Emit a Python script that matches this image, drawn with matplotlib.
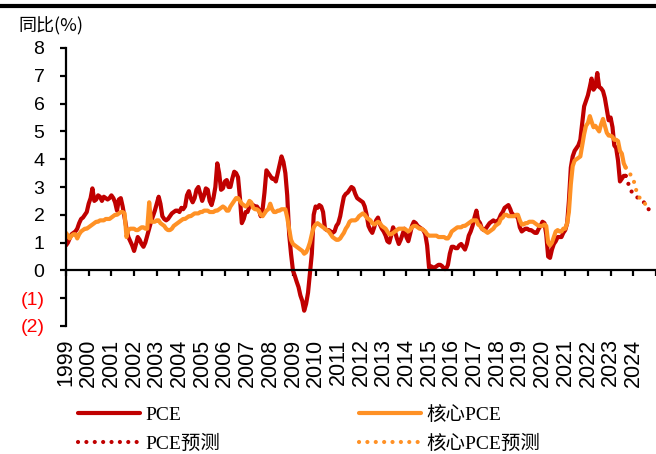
import matplotlib
matplotlib.use("Agg")
import matplotlib.pyplot as plt
import matplotlib.dates as mdates
import pandas as pd

# PCE yoy, monthly from 1999-01 to 2023-09 (%)
pce = [
    0.9, 1.0, 1.15, 1.3, 1.35, 1.4, 1.5, 1.7, 1.85, 1.9, 2.0, 2.1,          # 1999
    2.4, 2.6, 2.95, 2.5, 2.55, 2.7, 2.65, 2.5, 2.65, 2.6, 2.55, 2.6,        # 2000
    2.7, 2.6, 2.45, 2.15, 2.55, 2.6, 2.3, 1.9, 1.5, 1.2, 1.05, 0.9,         # 2001
    0.7, 0.95, 1.2, 1.1, 0.95, 0.85, 1.0, 1.25, 1.5, 1.75, 1.95, 2.15,      # 2002
    2.4, 2.65, 2.4, 1.95, 1.85, 1.8, 1.85, 1.95, 2.05, 2.1, 2.15, 2.15,     # 2003
    2.1, 2.25, 2.2, 2.3, 2.7, 2.85, 2.6, 2.45, 2.6, 2.9, 3.0, 2.75,         # 2004
    2.5, 2.7, 2.95, 2.9, 2.5, 2.35, 2.6, 3.0, 3.85, 3.5, 2.9, 2.95,         # 2005
    3.2, 3.25, 3.0, 3.0, 3.3, 3.55, 3.5, 3.35, 2.6, 1.7, 1.85, 2.1,         # 2006
    2.1, 2.3, 2.4, 2.35, 2.3, 2.3, 2.2, 1.95, 2.2, 2.8, 3.6, 3.5,           # 2007
    3.4, 3.3, 3.3, 3.2, 3.5, 3.8, 4.1, 3.9, 3.5, 2.7, 1.3, 0.6,             # 2008
    0.0, -0.2, -0.4, -0.6, -0.9, -1.1, -1.45, -1.2, -0.8, -0.1, 0.6, 2.0,   # 2009
    2.3, 2.25, 2.35, 2.3, 2.1, 1.5, 1.45, 1.45, 1.4, 1.35, 1.4, 1.6,        # 2010
    1.7, 1.95, 2.3, 2.65, 2.75, 2.8, 2.9, 3.0, 2.95, 2.75, 2.6, 2.55,       # 2011
    2.5, 2.45, 2.3, 2.0, 1.6, 1.45, 1.35, 1.55, 1.8, 1.9, 1.65, 1.5,        # 2012
    1.4, 1.25, 1.05, 1.0, 1.25, 1.55, 1.4, 1.15, 0.95, 1.1, 1.3, 1.5,       # 2013
    1.2, 1.05, 1.3, 1.6, 1.75, 1.7, 1.6, 1.55, 1.5, 1.45, 1.3, 0.9,         # 2014
    0.1, 0.15, 0.1, 0.1, 0.15, 0.2, 0.2, 0.15, 0.05, 0.05, 0.2, 0.6,        # 2015
    0.85, 0.85, 0.8, 0.8, 0.9, 0.95, 0.85, 0.75, 0.95, 1.25, 1.4, 1.6,      # 2016
    1.9, 2.15, 1.8, 1.7, 1.5, 1.45, 1.5, 1.6, 1.7, 1.75, 1.8, 1.75,         # 2017
    1.75, 1.85, 2.0, 2.1, 2.25, 2.3, 2.35, 2.2, 2.0, 2.0, 1.95, 1.9,        # 2018
    1.55, 1.4, 1.45, 1.5, 1.5, 1.45, 1.45, 1.4, 1.35, 1.35, 1.5, 1.6,       # 2019
    1.75, 1.7, 1.3, 0.5, 0.45, 0.75, 0.95, 1.05, 1.2, 1.2, 1.2, 1.35,       # 2020
    1.45, 1.7, 2.5, 3.7, 4.1, 4.3, 4.4, 4.5, 4.7, 5.3, 5.9, 6.1,            # 2021
    6.3, 6.6, 6.9, 6.5, 6.6, 7.1, 6.6, 6.55, 6.45, 6.2, 5.8, 5.4,           # 2022
    5.5, 5.15, 4.5, 4.4, 3.95, 3.2, 3.3, 3.4, 3.4,                          # 2023
]

# core PCE yoy, same months
core = [
    1.35, 1.25, 1.15, 1.25, 1.3, 1.3, 1.15, 1.3, 1.4, 1.45, 1.5, 1.5,       # 1999
    1.55, 1.6, 1.65, 1.7, 1.75, 1.75, 1.8, 1.8, 1.8, 1.85, 1.85, 1.85,      # 2000
    1.9, 1.95, 2.0, 2.0, 2.05, 2.1, 2.1, 2.05, 1.2, 1.45, 1.5, 1.5,         # 2001
    1.5, 1.45, 1.45, 1.5, 1.55, 1.55, 1.5, 1.5, 2.45, 1.75, 1.75, 1.75,     # 2002
    1.8, 1.8, 1.7, 1.65, 1.6, 1.5, 1.45, 1.45, 1.5, 1.6, 1.65, 1.7,         # 2003
    1.75, 1.8, 1.85, 1.85, 1.9, 1.95, 1.95, 2.0, 2.05, 2.05, 2.05, 2.1,     # 2004
    2.1, 2.15, 2.15, 2.15, 2.1, 2.1, 2.1, 2.15, 2.15, 2.2, 2.25, 2.3,       # 2005
    2.25, 2.15, 2.15, 2.3, 2.4, 2.5, 2.6, 2.6, 2.5, 2.4, 2.35, 2.3,         # 2006
    2.35, 2.5, 2.45, 2.25, 2.2, 2.2, 2.15, 2.0, 1.95, 2.05, 2.15, 2.2,      # 2007
    2.4, 2.2, 2.1, 2.1, 2.15, 2.15, 2.2, 2.2, 2.2, 1.9, 1.5, 1.1,           # 2008
    0.95, 0.9, 0.85, 0.8, 0.75, 0.7, 0.6, 0.65, 0.8, 1.0, 1.3, 1.55,        # 2009
    1.65, 1.7, 1.65, 1.6, 1.55, 1.5, 1.45, 1.4, 1.3, 1.2, 1.15, 1.1,        # 2010
    1.1, 1.15, 1.25, 1.35, 1.5, 1.6, 1.75, 1.8, 1.8, 1.8, 1.85, 1.95,       # 2011
    2.0, 2.05, 2.0, 1.9, 1.85, 1.8, 1.7, 1.65, 1.7, 1.75, 1.7, 1.6,         # 2012
    1.55, 1.5, 1.4, 1.3, 1.3, 1.35, 1.4, 1.45, 1.5, 1.5, 1.5, 1.5,          # 2013
    1.45, 1.4, 1.45, 1.55, 1.6, 1.6, 1.55, 1.5, 1.5, 1.45, 1.4, 1.3,        # 2014
    1.25, 1.25, 1.25, 1.25, 1.25, 1.2, 1.2, 1.2, 1.2, 1.15, 1.15, 1.25,     # 2015
    1.4, 1.45, 1.5, 1.55, 1.55, 1.55, 1.6, 1.6, 1.65, 1.7, 1.75, 1.8,       # 2016
    1.8, 1.8, 1.65, 1.6, 1.5, 1.45, 1.4, 1.35, 1.4, 1.45, 1.5, 1.6,         # 2017
    1.65, 1.7, 1.85, 1.9, 2.0, 2.0, 1.95, 1.95, 1.95, 1.95, 2.0, 2.0,       # 2018
    1.8, 1.65, 1.65, 1.7, 1.7, 1.75, 1.75, 1.75, 1.7, 1.65, 1.6, 1.6,       # 2019
    1.6, 1.65, 1.6, 1.0, 0.9, 1.0, 1.2, 1.4, 1.45, 1.4, 1.4, 1.5,           # 2020
    1.5, 1.7, 2.1, 3.1, 3.75, 3.95, 4.0, 4.05, 4.1, 4.5, 4.9, 5.2,          # 2021
    5.3, 5.55, 5.35, 5.15, 5.2, 5.1, 5.0, 5.25, 5.45, 5.2, 4.95, 4.85,      # 2022
    4.85, 4.8, 4.7, 4.7, 4.65, 4.3, 4.2, 3.85, 3.7,                         # 2023
]

# forecasts, monthly from 2023-09
pce_fc = [3.4, 3.2, 3.0, 2.85, 2.75, 2.68, 2.63, 2.6, 2.57, 2.5, 2.42, 2.35, 2.22, 2.05]
core_fc = [3.7, 3.6, 3.5, 3.4, 3.3, 3.0, 2.8, 2.65, 2.55, 2.5, 2.42, 2.33, 2.27]

years = list(range(1999, 2026))
yticks = [-2, -1, 0, 1, 2, 3, 4, 5, 6, 7, 8]
ytick_labels = ["(2)", "(1)", "0", "1", "2", "3", "4", "5", "6", "7", "8"]

red = "#C00000"
orange = "#FF9125"

dates = mdates.date2num(pd.date_range("1999-01-01", periods=len(pce), freq="MS"))
pce_fc_dates = mdates.date2num(pd.date_range("2023-09-01", periods=len(pce_fc), freq="MS"))
core_fc_dates = mdates.date2num(pd.date_range("2023-09-01", periods=len(core_fc), freq="MS"))
year_pos = mdates.date2num(pd.to_datetime([f"{y}-01-01" for y in years]))

fig = plt.figure(figsize=(6.56, 4.54), dpi=100)
ax = fig.add_axes([66 / 656, 1 - 326 / 454, 590 / 656, 278 / 454])

l1, = ax.plot(dates, pce, color=red, lw=3, solid_capstyle="round", label="PCE")
l2, = ax.plot(pce_fc_dates, pce_fc, color=red, lw=3, linestyle=(0, (0.01, 2.0)),
              dash_capstyle="round", label="PCE预测")
l3, = ax.plot(dates, core, color=orange, lw=3, solid_capstyle="round", label="核心PCE")
l4, = ax.plot(core_fc_dates, core_fc, color=orange, lw=3, linestyle=(0, (0.01, 2.0)),
              dash_capstyle="round", label="核心PCE预测")

ax.set_xlim(year_pos[0], year_pos[-1])
ax.set_ylim(-2, 8)

for s in ["top", "right"]:
    ax.spines[s].set_visible(False)
ax.spines["bottom"].set_position(("data", 0))
ax.spines["bottom"].set_linewidth(1.6)
ax.spines["left"].set_linewidth(1.6)

ax.set_xticks(year_pos)
ax.tick_params(axis="x", direction="out", length=4.5, width=1.6, labelbottom=False)

ax.set_yticks(yticks)
ax.set_yticklabels(ytick_labels, fontfamily="Liberation Sans", fontsize=14)
ax.tick_params(axis="y", direction="out", length=4.5, width=1.6, pad=11)
for lab, v in zip(ax.get_yticklabels(), yticks):
    lab.set_color("red" if v < 0 else "black")

sec = ax.secondary_xaxis(0.0)
sec.set_xticks(year_pos[:-1])
sec.set_xticklabels([str(y) for y in years[:-1]], rotation=90,
                    fontfamily="Liberation Sans", fontsize=15.5)
sec.tick_params(length=0, pad=9)
sec.spines["bottom"].set_visible(False)

fig.text(18 / 656, 1 - 26 / 454, "同比(%)", fontsize=13,
         family=["Noto Sans CJK SC", "DejaVu Sans"], va="center", ha="left")

# top rule
fig.add_artist(plt.Line2D([0.0, 1.0], [1 - 6 / 454, 1 - 6 / 454], color="black",
                          lw=3, transform=fig.transFigure))

fig.legend([l1, l2, l3, l4], ["PCE", "PCE预测", "核心PCE", "核心PCE预测"],
           ncol=2, loc="upper left", bbox_to_anchor=(68 / 656, 1 - 396 / 454),
           frameon=False, borderpad=0, handlelength=3.2, handletextpad=0.3,
           columnspacing=7.1, labelspacing=0.55,
           prop={"family": ["Liberation Serif", "Noto Sans CJK SC"], "size": 14})

fig.savefig("out.png", dpi=100)
